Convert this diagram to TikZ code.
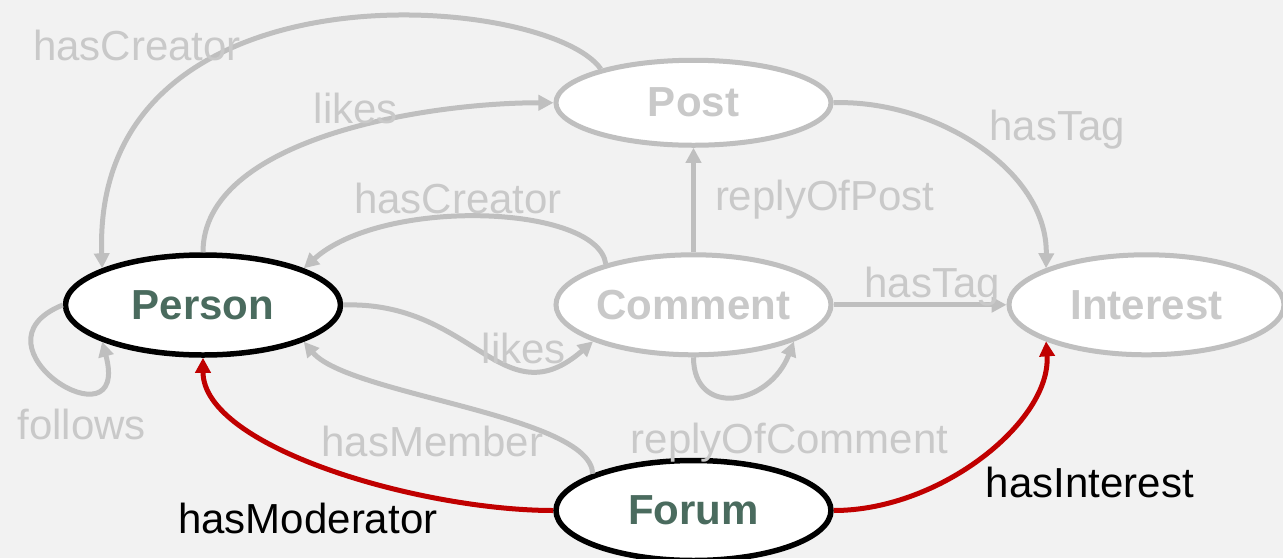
\documentclass[tikz,border=0pt]{standalone}
\usepackage{fontspec}
\setmainfont{Liberation Sans}
\usetikzlibrary{matrix,positioning,arrows.meta,shapes.geometric,backgrounds}

\definecolor{bgcol}{HTML}{F2F2F2}
\definecolor{linegray}{HTML}{BFBFBF}
\definecolor{txtgray}{HTML}{C9C9C9}
\definecolor{nodegreen}{HTML}{4A6B5E}
\definecolor{edgered}{HTML}{C00000}

\begin{document}
\begin{tikzpicture}[ent/.style={ellipse,fill=white,minimum width=275pt,minimum height=100pt,
         inner sep=0pt,font=\fontsize{42}{50}\selectfont\bfseries},
  hub/.style={draw=black,line width=5.5pt,text=nodegreen},
  faint/.style={draw=linegray,line width=5pt,text=txtgray},
  lbl/.style={font=\fontsize{42}{50}\selectfont,text=txtgray,inner sep=1pt},
  key/.style={lbl,text=black},
  gline/.style={linegray,line width=5pt,-{Triangle[length=15pt,width=15pt]}},
  rline/.style={gline,edgered}]
\matrix (m) [matrix of nodes, row sep=100pt, column sep=210pt, nodes={ent}]
{                & |[faint,minimum height=85pt]| Post \\[4.5pt]
  |[hub]| Person & |[faint]| Comment                  \\
                 & |[hub]| Forum                      \\
};
\node[ent,faint,right=173pt of m-2-2] (interest) {Interest};
\path[gline]
(m-1-2.160) edge[out=125,in=92,out distance=93pt,in distance=314pt]
            node[lbl,pos=.62,anchor=east] {hasCreator} (m-2-1.160)
(m-2-1.north) edge[out=90,in=180,out distance=113pt,in distance=130pt]
            node[lbl,pos=.56,anchor=south] {likes} (m-1-2.west)
(m-2-2.155) edge[out=98,in=42,out distance=60pt,in distance=107pt]
            node[lbl,pos=.56,anchor=south] {hasCreator} (m-2-1.20)
(m-2-2.north) edge node[lbl,pos=.5,right=18pt] {replyOfPost} (m-1-2.south)
(m-1-2.east) edge[out=2,in=89,out distance=100pt,in distance=99pt]
            node[lbl,pos=.5,anchor=south west,xshift=8pt,yshift=-6pt] {hasTag} (interest.160)
(m-2-2.east) edge node[lbl,pos=.57,anchor=base,yshift=7pt] {hasTag} (interest.west)
(m-2-1.east) edge[out=2,in=221,out distance=130pt,in distance=120pt]
            node[lbl,pos=.7,anchor=south] {likes} (m-2-2.200)
(m-2-1.west) edge[out=202,in=285,out distance=108pt,in distance=113pt]
            node[lbl,pos=.66,below=16pt] {follows} (m-2-1.200)
(m-2-2.south) edge[out=270,in=249,out distance=61pt,in distance=69pt]
            node[lbl,pos=.5,anchor=north,xshift=55pt,yshift=-23pt] {replyOfComment} (m-2-2.340)
(m-3-2.160) edge[out=92,in=310,out distance=59pt,in distance=70pt]
            node[lbl,pos=.58,below=26pt] {hasMember} (m-2-1.340)
;
\path[rline]
(m-3-2.west) edge[out=180,in=270,out distance=132pt,in distance=90pt]
            node[key,pos=.55,below=40pt] {hasModerator} (m-2-1.south)
(m-3-2.east) edge[out=0,in=274,out distance=108pt,in distance=79pt]
            node[key,pos=.5,anchor=north west,xshift=0pt,yshift=-8pt] {hasInterest} (interest.200)
;
\begin{scope}[on background layer]
\fill[bgcol] ([shift={(-203pt,305pt)}]m-2-1.center) rectangle ([shift={(1080pt,-253pt)}]m-2-1.center);
\end{scope}
\pgfresetboundingbox
\useasboundingbox ([shift={(-203pt,305pt)}]m-2-1.center) rectangle ([shift={(1080pt,-253pt)}]m-2-1.center);
\end{tikzpicture}
\end{document}
